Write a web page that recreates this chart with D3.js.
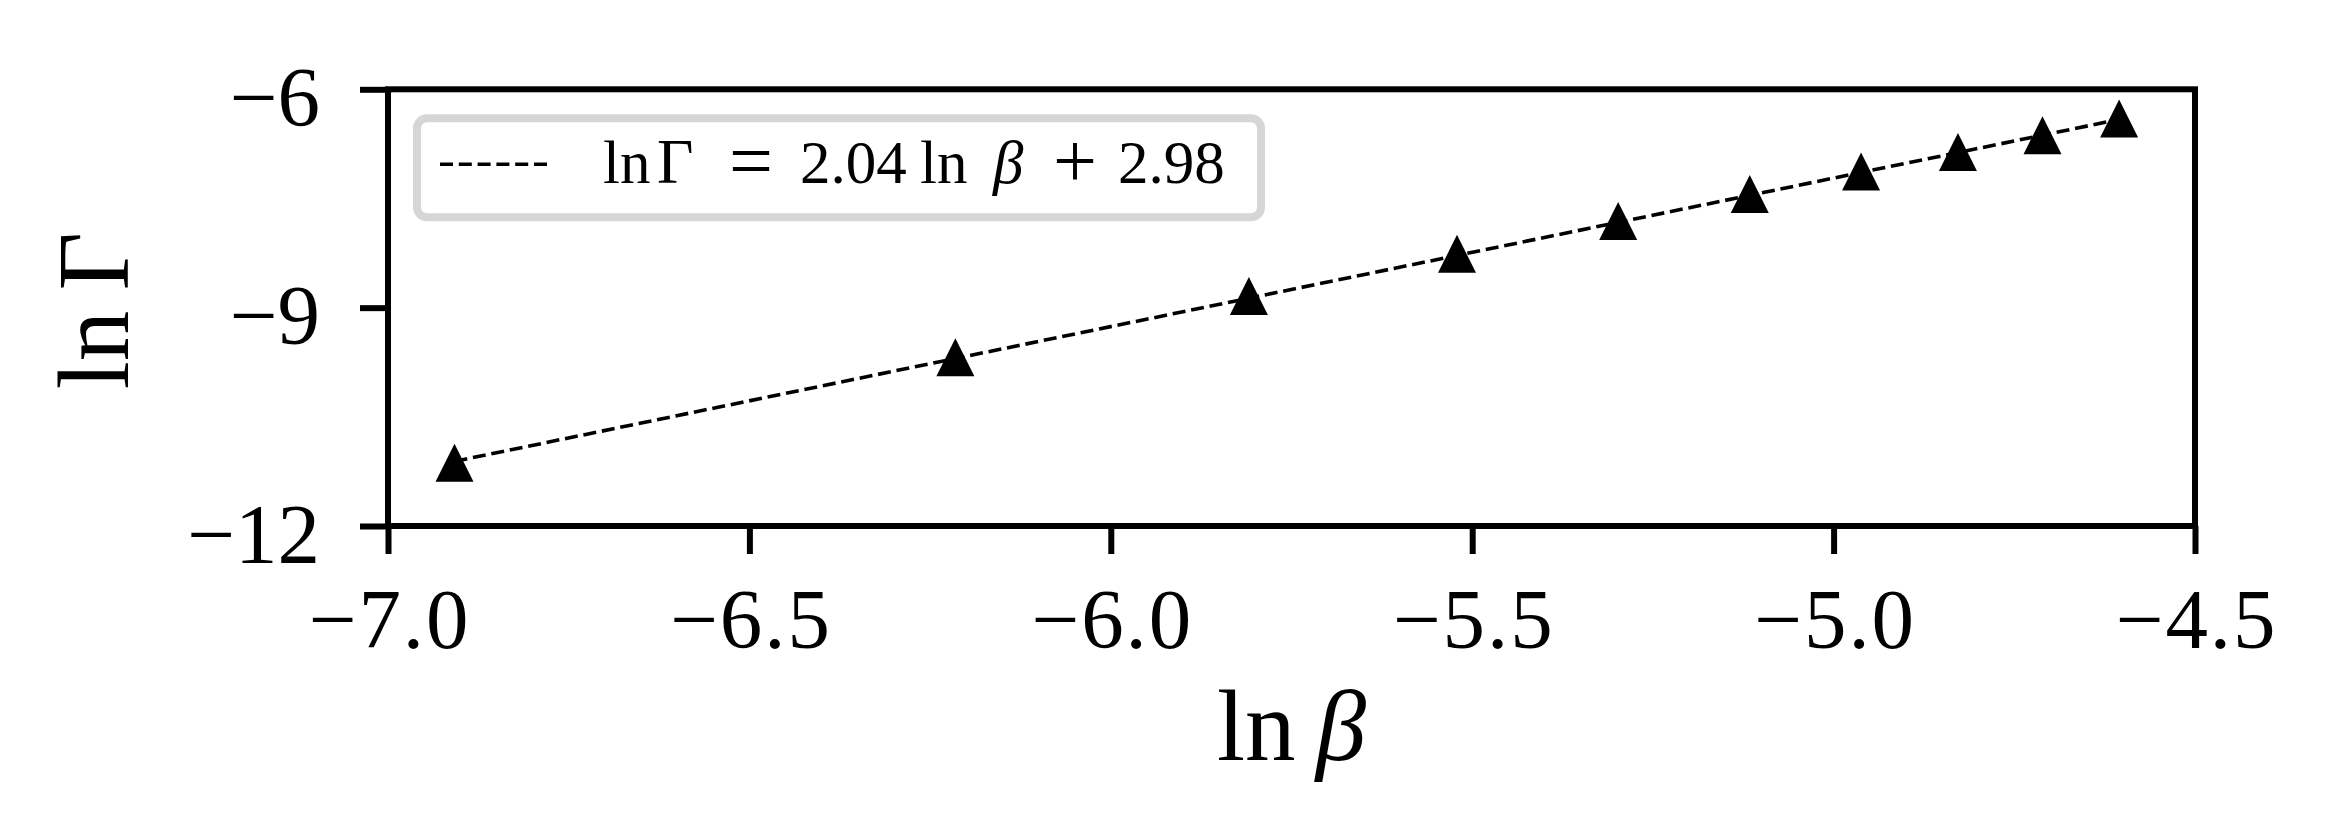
<!DOCTYPE html>
<html>
<head>
<meta charset="utf-8">
<script src="https://cdn.jsdelivr.net/npm/d3@7"></script>
<style>
  html, body { margin: 0; padding: 0; background: #fff; }
  svg { display: block; }
  text { font-family: "Liberation Serif", "DejaVu Serif", serif; fill: #000; }
</style>
</head>
<body>
<svg id="chart" width="2339" height="840"></svg>
<script>
// ---- data ----
const lnBeta  = [-6.908, -6.215, -5.809, -5.521, -5.298, -5.116, -4.962, -4.828, -4.711, -4.605];
const lnGamma = [-11.13, -9.68, -8.84, -8.26, -7.81, -7.44, -7.13, -6.86, -6.63, -6.40];
const fitSlope = 2.04;
const fitIntercept = 2.98;
const xTicks = [-7.0, -6.5, -6.0, -5.5, -5.0, -4.5];
const xTickLabels = ["\u22127.0", "\u22126.5", "\u22126.0", "\u22125.5", "\u22125.0", "\u22124.5"];
const yTicks = [-6, -9, -12];
const yTickLabels = ["\u22126", "\u22129", "\u221212"];

// ---- layout ----
const W = 2339, H = 840;
const L = 388, R = 2195, T = 89.3, B = 526;

const svg = d3.select("#chart");
svg.append("rect").attr("width", W).attr("height", H).attr("fill", "#fff");

const x = d3.scaleLinear().domain([-7.0, -4.5]).range([L, R]);
const y = d3.scaleLinear().domain([-12, -6]).range([B, T]);

// fit line across data range
const xMin = d3.min(lnBeta), xMax = d3.max(lnBeta);
const fitPts = [xMin, xMax].map(v => [v, fitSlope * v + fitIntercept]);
svg.append("path")
  .attr("d", d3.line().x(d => x(d[0])).y(d => y(d[1]))(fitPts))
  .attr("fill", "none").attr("stroke", "#000")
  .attr("stroke-width", 3.6).attr("stroke-dasharray", "13,5.8");

// markers (triangle up, bbox centred on the point)
const ms = 19;
svg.append("g").selectAll("path").data(lnBeta.map((v, i) => [v, lnGamma[i]]))
  .join("path")
  .attr("d", d => {
    const cx = x(d[0]), cy = y(d[1]);
    return `M${cx},${cy - ms}L${cx + ms},${cy + ms}L${cx - ms},${cy + ms}Z`;
  })
  .attr("fill", "#000");

// axes
const tickLen = 28;
const gx = svg.append("g").attr("transform", `translate(0,${B})`)
  .call(d3.axisBottom(x).tickValues(xTicks).tickSize(tickLen).tickSizeOuter(0)
    .tickFormat((d, i) => xTickLabels[i]));
gx.select(".domain").remove();
gx.selectAll(".tick line").attr("stroke", "#000").attr("stroke-width", 6);
gx.selectAll(".tick text").attr("y", 122).attr("dy", 0)
  .attr("font-size", 85).attr("font-family", "Liberation Serif").attr("fill", "#000")
  .attr("textLength", 160).attr("lengthAdjust", "spacing");

const gy = svg.append("g").attr("transform", `translate(${L},0)`)
  .call(d3.axisLeft(y).tickValues(yTicks).tickSize(tickLen).tickSizeOuter(0)
    .tickFormat((d, i) => yTickLabels[i]));
gy.select(".domain").remove();
gy.selectAll(".tick line").attr("stroke", "#000").attr("stroke-width", 6);
gy.selectAll(".tick text").attr("x", -68).attr("dy", 0).attr("y", 36)
  .attr("font-size", 85).attr("font-family", "Liberation Serif").attr("fill", "#000");

// frame
svg.append("rect").attr("x", L).attr("y", T).attr("width", R - L).attr("height", B - T)
  .attr("fill", "none").attr("stroke", "#000").attr("stroke-width", 6);

// axis labels
const xl = svg.append("text").attr("x", (L + R) / 2).attr("y", 760)
  .attr("text-anchor", "middle").attr("font-size", 101);
xl.append("tspan").text("ln\u2009");
xl.append("tspan").attr("font-style", "italic").text("\u03B2");

const yl = svg.append("text")
  .attr("transform", `translate(128,${(T + B) / 2 + 3}) rotate(-90)`)
  .attr("text-anchor", "middle").attr("font-size", 101);
yl.append("tspan").text("ln\u2009\u0393");

// legend
svg.append("rect").attr("x", 417).attr("y", 118.3).attr("width", 844).attr("height", 99)
  .attr("rx", 10).attr("ry", 10)
  .attr("fill", "#fff").attr("stroke", "#d6d6d6").attr("stroke-width", 8);
svg.append("line").attr("x1", 440).attr("x2", 552).attr("y1", 164.3).attr("y2", 164.3)
  .attr("stroke", "#000").attr("stroke-width", 3.6).attr("stroke-dasharray", "13,5.8");
const lt = svg.append("text").attr("y", 183.3).attr("font-size", 61);
const legendParts = [
  { t: "ln", x: 603 },
  { t: "\u0393", x: 657, fs: 63 },
  { t: "=", x: 729, fs: 78, op: true },
  { t: fitSlope.toFixed(2), x: 800 },
  { t: "ln", x: 920 },
  { t: "\u03B2", x: 993, it: true },
  { t: "+", x: 1053, fs: 78, op: true },
  { t: fitIntercept.toFixed(2), x: 1118 }
];
legendParts.forEach(p => {
  lt.append("tspan").attr("x", p.x)
    .attr("y", p.op ? 187 : 183.3)
    .attr("font-size", p.fs || null)
    .attr("font-style", p.it ? "italic" : null).text(p.t);
});
</script>
</body>
</html>
